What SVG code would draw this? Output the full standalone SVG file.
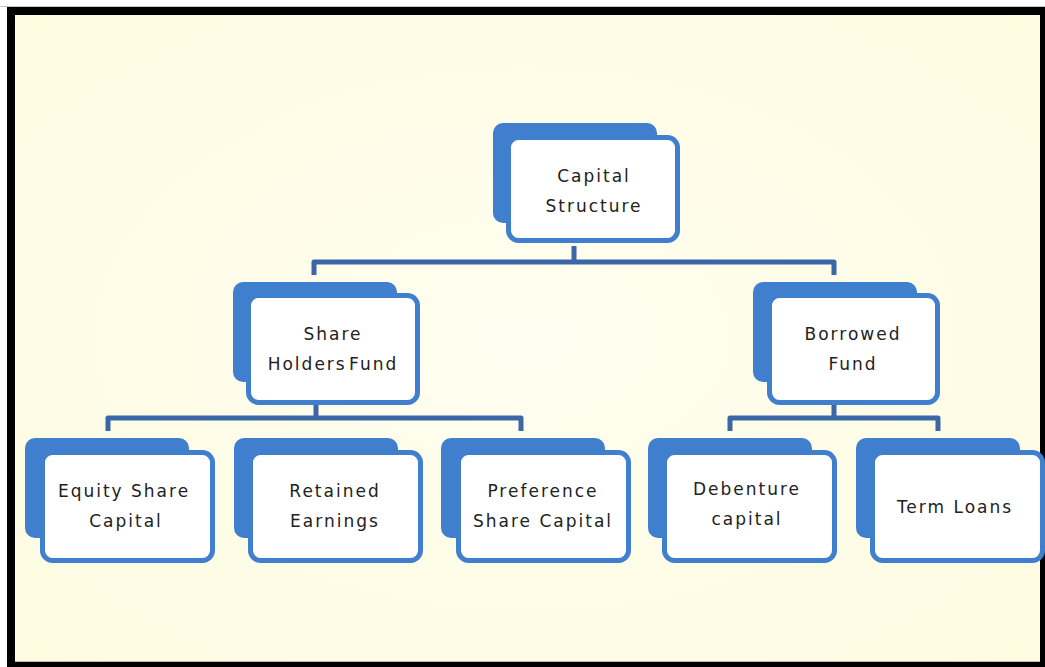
<svg xmlns="http://www.w3.org/2000/svg" width="1045" height="667" viewBox="0 0 1045 667">
<defs>
<style>
.back{fill:#3f7fcd;}
.front{fill:#ffffff;stroke:#3f7fcd;stroke-width:5;}
.lbl{font-family:"DejaVu Sans",Verdana,sans-serif;font-size:17px;letter-spacing:2px;fill:#222222;text-anchor:middle;}
.conn{fill:none;stroke:#3b67a6;stroke-width:5;stroke-linejoin:round;}
</style>
<radialGradient id="bgG" cx="0.5" cy="0.5" r="0.7">
<stop offset="0" stop-color="#fffef0"/>
<stop offset="1" stop-color="#fdfbe0"/>
</radialGradient>
</defs>
<rect x="0" y="0" width="1045" height="667" fill="#ffffff"/>
<rect x="0" y="6" width="1045" height="1" fill="#c8c8c8"/>
<rect x="7" y="7" width="1038" height="660" fill="#000000"/>
<rect x="15" y="15" width="1025" height="647" fill="url(#bgG)"/>
<rect x="15" y="661" width="1025" height="1" fill="#b8b8b8"/>

<g id="connectors">
<path class="conn" d="M574,246 V262 M314,275 V262 H834 V275"/>
<path class="conn" d="M316,405 V418 M108,431 V418 H521 V431"/>
<path class="conn" d="M834,405 V418 M730,431 V418 H938 V431"/>
</g>

<g id="capital-structure">
<rect class="back" x="493" y="123" width="164" height="100" rx="10"/>
<rect class="front" x="508.5" y="137.5" width="169" height="103" rx="10"/>
<text class="lbl" x="594" y="182">Capital</text>
<text class="lbl" x="594" y="212">Structure</text>
</g>

<g id="share-holders-fund">
<rect class="back" x="233" y="282" width="164" height="100" rx="10"/>
<rect class="front" x="248.5" y="295.5" width="169" height="107" rx="10"/>
<text class="lbl" x="333" y="340">Share</text>
<text class="lbl" x="333" y="370" style="word-spacing:-5px">Holders Fund</text>
</g>

<g id="borrowed-fund">
<rect class="back" x="753" y="282" width="164" height="100" rx="10"/>
<rect class="front" x="769.5" y="295.5" width="168" height="107" rx="10"/>
<text class="lbl" x="853" y="340">Borrowed</text>
<text class="lbl" x="853" y="370">Fund</text>
</g>

<g id="equity-share-capital">
<rect class="back" x="25" y="438" width="164" height="100" rx="10"/>
<rect class="front" x="42.5" y="452.5" width="170" height="108" rx="10"/>
<text class="lbl" x="124" y="497">Equity Share</text>
<text class="lbl" x="126" y="527">Capital</text>
</g>

<g id="retained-earnings">
<rect class="back" x="234" y="438" width="164" height="100" rx="10"/>
<rect class="front" x="250.5" y="452.5" width="170" height="108" rx="10"/>
<text class="lbl" x="335" y="497">Retained</text>
<text class="lbl" x="335" y="527">Earnings</text>
</g>

<g id="preference-share-capital">
<rect class="back" x="441" y="438" width="164" height="100" rx="10"/>
<rect class="front" x="458.5" y="452.5" width="170" height="108" rx="10"/>
<text class="lbl" x="543" y="497">Preference</text>
<text class="lbl" x="543" y="527">Share Capital</text>
</g>

<g id="debenture-capital">
<rect class="back" x="648" y="438" width="164" height="100" rx="10"/>
<rect class="front" x="664.5" y="452.5" width="170" height="108" rx="10"/>
<text class="lbl" x="747" y="495">Debenture</text>
<text class="lbl" x="747" y="525">capital</text>
</g>

<g id="term-loans">
<rect class="back" x="856" y="438" width="164" height="100" rx="10"/>
<rect class="front" x="872.5" y="452.5" width="170" height="108" rx="10"/>
<text class="lbl" x="955" y="513">Term Loans</text>
</g>
</svg>
